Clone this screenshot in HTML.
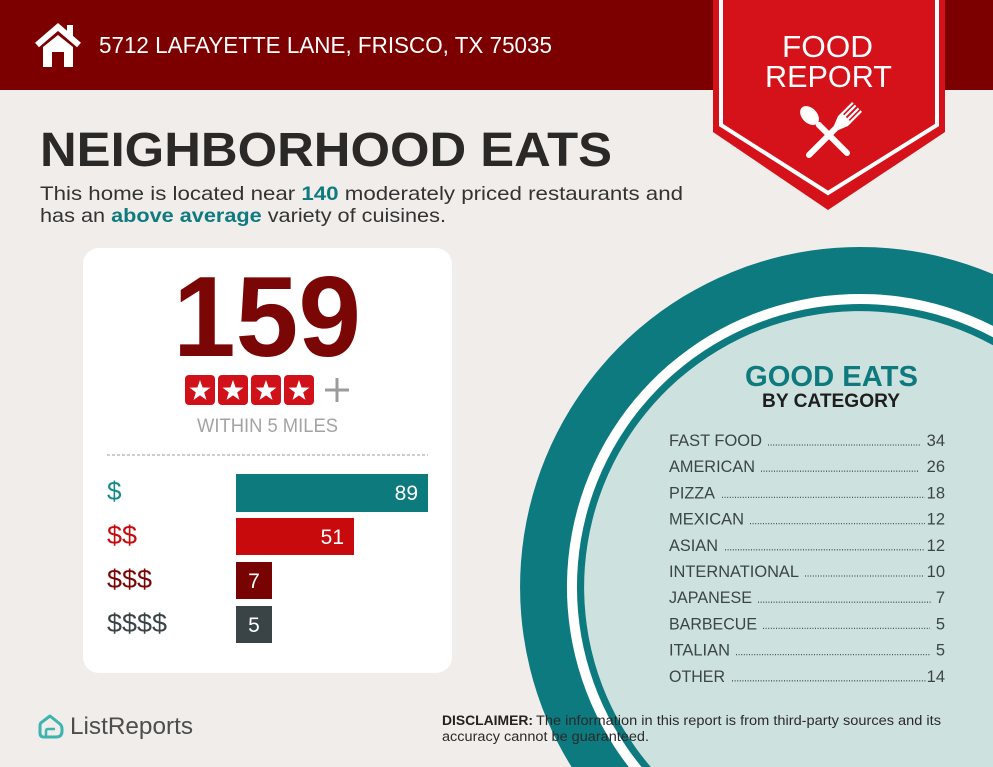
<!DOCTYPE html>
<html><head><meta charset="utf-8"><style>
html,body{margin:0;padding:0;background:#f1edea;width:993px;height:767px;overflow:hidden;}
svg{display:block;}
text{font-family:"Liberation Sans",Arial,sans-serif;}
</style></head><body>
<svg width="993" height="767" viewBox="0 0 993 767" xmlns="http://www.w3.org/2000/svg">
<rect x="0" y="0" width="993" height="767" fill="#f1edea"/>
<!-- header -->
<rect x="0" y="0" width="993" height="90" fill="#7c0000"/>
<!-- house icon -->
<polyline points="37,45 58,27 79,45" fill="none" stroke="#fff" stroke-width="6" stroke-linejoin="miter"/>
<rect x="67" y="25" width="6" height="12" fill="#fff"/>
<path d="M43,47 L58,35 L73,47 L73,67 L64,67 L64,52 L52,52 L52,67 L43,67 Z" fill="#fff"/>
<text x="99" y="53" font-size="23" fill="#fff" textLength="453" lengthAdjust="spacingAndGlyphs">5712 LAFAYETTE LANE, FRISCO, TX 75035</text>

<!-- ribbon -->
<polygon points="713,0 945,0 945,132 828,210 713,132" fill="#d5121a"/>
<polyline points="721,0 721,125 828,193 937,125 937,0" fill="none" stroke="#fff" stroke-width="4"/>
<text x="782" y="57" font-size="31" fill="#fff" textLength="91" lengthAdjust="spacingAndGlyphs">FOOD</text>
<text x="765" y="87" font-size="31" fill="#fff" textLength="127" lengthAdjust="spacingAndGlyphs">REPORT</text>
<!-- spoon -->
<g transform="translate(847,153) rotate(-45)">
<line x1="0" y1="0" x2="0" y2="-40" stroke="#fff" stroke-width="6" stroke-linecap="round"/>
<ellipse cx="0" cy="-53" rx="7.5" ry="11" fill="#fff"/>
</g>
<!-- fork -->
<g transform="translate(809,155) rotate(45)">
<line x1="0" y1="0" x2="0" y2="-40" stroke="#fff" stroke-width="6" stroke-linecap="round"/>
<path d="M-3,-38 L-7,-48 L-7,-53 L7,-53 L7,-48 L3,-38 Z" fill="#fff"/>
<rect x="-7" y="-68" width="2.2" height="18" fill="#fff"/>
<rect x="-3.2" y="-68" width="2.2" height="18" fill="#fff"/>
<rect x="1" y="-68" width="2.2" height="18" fill="#fff"/>
<rect x="4.8" y="-68" width="2.2" height="18" fill="#fff"/>
</g>

<!-- title -->
<text x="40" y="166" font-size="48" font-weight="bold" fill="#2b2828" textLength="572" lengthAdjust="spacingAndGlyphs">NEIGHBORHOOD EATS</text>
<text x="40" y="200" font-size="19.5" fill="#333" textLength="643" lengthAdjust="spacingAndGlyphs">This home is located near <tspan font-weight="bold" fill="#0f7b7f">140</tspan> moderately priced restaurants and</text>
<text x="40" y="222" font-size="19.5" fill="#333" textLength="406" lengthAdjust="spacingAndGlyphs">has an <tspan font-weight="bold" fill="#0f7b7f">above average</tspan> variety of cuisines.</text>

<!-- card -->
<rect x="83" y="248" width="369" height="425" rx="16" ry="16" fill="#ffffff"/>
<text x="173" y="356" font-size="114" font-weight="bold" fill="#7b0606" textLength="188" lengthAdjust="spacingAndGlyphs">159</text>
<!-- stars -->
<g fill="#d0111a">
<rect x="185" y="375" width="30" height="30" rx="4"/>
<rect x="218" y="375" width="30" height="30" rx="4"/>
<rect x="251" y="375" width="30" height="30" rx="4"/>
<rect x="284" y="375" width="30" height="30" rx="4"/>
</g>
<g fill="#fff">
<polygon transform="translate(200,391)" points="0,-11 2.59,-3.56 10.46,-3.4 4.18,1.36 6.47,8.9 0,4.4 -6.47,8.9 -4.18,1.36 -10.46,-3.4 -2.59,-3.56"/>
<polygon transform="translate(233,391)" points="0,-11 2.59,-3.56 10.46,-3.4 4.18,1.36 6.47,8.9 0,4.4 -6.47,8.9 -4.18,1.36 -10.46,-3.4 -2.59,-3.56"/>
<polygon transform="translate(266,391)" points="0,-11 2.59,-3.56 10.46,-3.4 4.18,1.36 6.47,8.9 0,4.4 -6.47,8.9 -4.18,1.36 -10.46,-3.4 -2.59,-3.56"/>
<polygon transform="translate(299,391)" points="0,-11 2.59,-3.56 10.46,-3.4 4.18,1.36 6.47,8.9 0,4.4 -6.47,8.9 -4.18,1.36 -10.46,-3.4 -2.59,-3.56"/>
</g>
<line x1="325" y1="390" x2="349" y2="390" stroke="#9b9b9b" stroke-width="3"/>
<line x1="337" y1="378" x2="337" y2="402" stroke="#9b9b9b" stroke-width="3"/>
<text x="197" y="432" font-size="19" fill="#a3a3a3" textLength="141" lengthAdjust="spacingAndGlyphs">WITHIN 5 MILES</text>
<line x1="107" y1="455" x2="428" y2="455" stroke="#b0b0b0" stroke-width="1.3" stroke-dasharray="3 2"/>

<!-- bars -->
<rect x="236" y="474" width="192" height="38" fill="#0d7a7e"/>
<rect x="236" y="518" width="118" height="37" fill="#c80a0d"/>
<rect x="236" y="562" width="36" height="37" fill="#780303"/>
<rect x="236" y="606" width="36" height="37" fill="#3a4447"/>
<text x="418" y="500" font-size="21" fill="#fff" text-anchor="end">89</text>
<text x="344" y="544" font-size="21" fill="#fff" text-anchor="end">51</text>
<text x="254" y="588" font-size="21" fill="#fff" text-anchor="middle">7</text>
<text x="254" y="632" font-size="21" fill="#fff" text-anchor="middle">5</text>
<text x="107" y="500" font-size="26" fill="#148a86">$</text>
<text x="107" y="544" font-size="26" fill="#c80a0d" textLength="30" lengthAdjust="spacingAndGlyphs">$$</text>
<text x="107" y="588" font-size="26" fill="#7a0505" textLength="45" lengthAdjust="spacingAndGlyphs">$$$</text>
<text x="107" y="632" font-size="26" fill="#3a4447" textLength="60" lengthAdjust="spacingAndGlyphs">$$$$</text>

<!-- circle (clipped to frame as paths) -->
<path d="M993,274.1 A340,340 0 0 0 571.6,767 L993,767 Z" fill="#0c7a7e"/>
<path d="M993,325.9 A293,293 0 0 0 628.8,767 L993,767 Z" fill="#ffffff"/>
<path d="M993,337.2 A283,283 0 0 0 641.6,767 L993,767 Z" fill="#0c7a7e"/>
<path d="M993,345.2 A276,276 0 0 0 650.8,767 L993,767 Z" fill="#cde2df"/>

<text x="745" y="386" font-size="29" font-weight="bold" fill="#0f7a7e" textLength="173" lengthAdjust="spacingAndGlyphs">GOOD EATS</text>
<text x="762" y="407" font-size="19" font-weight="bold" fill="#1e1e1e" textLength="138" lengthAdjust="spacingAndGlyphs">BY CATEGORY</text>

<g font-size="16.5" fill="#3b4545">
<text x="669" y="446" textLength="93" lengthAdjust="spacingAndGlyphs">FAST FOOD</text>
<text x="945" y="446" text-anchor="end">34</text>
<text x="669" y="472.2" textLength="86" lengthAdjust="spacingAndGlyphs">AMERICAN</text>
<text x="945" y="472.2" text-anchor="end">26</text>
<text x="669" y="498.4" textLength="46" lengthAdjust="spacingAndGlyphs">PIZZA</text>
<text x="945" y="498.4" text-anchor="end">18</text>
<text x="669" y="524.6" textLength="75" lengthAdjust="spacingAndGlyphs">MEXICAN</text>
<text x="945" y="524.6" text-anchor="end">12</text>
<text x="669" y="550.8" textLength="49" lengthAdjust="spacingAndGlyphs">ASIAN</text>
<text x="945" y="550.8" text-anchor="end">12</text>
<text x="669" y="577" textLength="130" lengthAdjust="spacingAndGlyphs">INTERNATIONAL</text>
<text x="945" y="577" text-anchor="end">10</text>
<text x="669" y="603.2" textLength="83" lengthAdjust="spacingAndGlyphs">JAPANESE</text>
<text x="945" y="603.2" text-anchor="end">7</text>
<text x="669" y="629.4" textLength="88" lengthAdjust="spacingAndGlyphs">BARBECUE</text>
<text x="945" y="629.4" text-anchor="end">5</text>
<text x="669" y="655.6" textLength="61" lengthAdjust="spacingAndGlyphs">ITALIAN</text>
<text x="945" y="655.6" text-anchor="end">5</text>
<text x="669" y="681.8" textLength="56" lengthAdjust="spacingAndGlyphs">OTHER</text>
<text x="945" y="681.8" text-anchor="end">14</text>
</g>
<g stroke="#4a5454" stroke-width="1.3" stroke-dasharray="1 1.6">
<line x1="768" y1="445" x2="921" y2="445"/>
<line x1="761" y1="471.2" x2="919" y2="471.2"/>
<line x1="722" y1="497.4" x2="925" y2="497.4"/>
<line x1="750" y1="523.6" x2="925" y2="523.6"/>
<line x1="725" y1="549.8" x2="925" y2="549.8"/>
<line x1="805" y1="576" x2="923" y2="576"/>
<line x1="758" y1="602.2" x2="932" y2="602.2"/>
<line x1="763" y1="628.4" x2="930" y2="628.4"/>
<line x1="736" y1="654.6" x2="930" y2="654.6"/>
<line x1="732" y1="680.8" x2="926" y2="680.8"/>
</g>

<!-- footer logo -->
<path d="M50,716 L60,724 Q62,726 62,729 L62,731 Q62,737 56,737 L44,737 Q40,737 40,733 L40,726 Q40,723 42,722 Z" fill="none" stroke="#3cb4b0" stroke-width="3" stroke-linejoin="round"/>
<path d="M46,737 L46,731 Q46,729 48,729 L55,729" fill="none" stroke="#3cb4b0" stroke-width="2.5"/>
<text x="70" y="734" font-size="24" fill="#4d4d4d" textLength="123" lengthAdjust="spacingAndGlyphs">ListReports</text>

<!-- disclaimer -->
<text x="442" y="725" font-size="13.5" font-weight="bold" fill="#222" textLength="91" lengthAdjust="spacingAndGlyphs">DISCLAIMER:</text>
<text x="536" y="725" font-size="13.5" fill="#2a2a2a" textLength="405" lengthAdjust="spacingAndGlyphs">The information in this report is from third-party sources and its</text>
<text x="442" y="741" font-size="13.5" fill="#2a2a2a" textLength="207" lengthAdjust="spacingAndGlyphs">accuracy cannot be guaranteed.</text>
</svg>
</body></html>
